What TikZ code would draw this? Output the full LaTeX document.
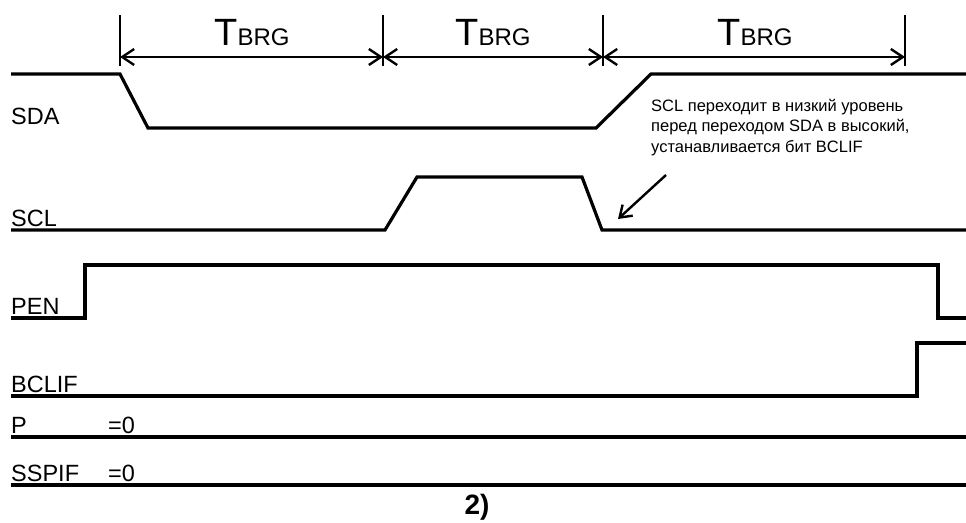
\documentclass[tikz,border=0pt]{standalone}
\usepackage{fontspec}
\setmainfont{Liberation Sans}
\usetikzlibrary{arrows.meta}
\begin{document}
\begin{tikzpicture}[x=1pt,y=-1pt,
  sig/.style={line width=3.2pt,line join=miter},
  dimline/.style={line width=2.4pt,{Straight Barb[length=12pt,width=16pt,line width=2.4pt]}-{Straight Barb[length=12pt,width=16pt,line width=2.4pt]}},
  tickline/.style={line width=2.2pt},
  lbl/.style={anchor=base west,inner sep=0pt,font=\fontsize{23.5}{23.5}\selectfont},
  note/.style={anchor=north west,inner sep=0pt,align=left,font=\fontsize{16.5}{20.5}\selectfont},
  pointer/.style={line width=2.4pt,-{Straight Barb[length=11pt,width=15pt,line width=2.4pt]}}]
\useasboundingbox (0,0) rectangle (966,522);

% dimension ticks
\coordinate (t1a) at (120,15); \coordinate (t1b) at (120,66);
\coordinate (t2a) at (383,15); \coordinate (t2b) at (383,66);
\coordinate (t3a) at (603,15); \coordinate (t3b) at (603,66);
\coordinate (t4a) at (905,15); \coordinate (t4b) at (905,66);
\draw[tickline] (t1a) -- (t1b);
\draw[tickline] (t2a) -- (t2b);
\draw[tickline] (t3a) -- (t3b);
\draw[tickline] (t4a) -- (t4b);
\coordinate (d1) at (120,57); \coordinate (d2) at (383,57);
\coordinate (d3) at (603,57); \coordinate (d4) at (905,57);
\draw[dimline] (d1) -- (d2);
\draw[dimline] (d2) -- (d3);
\draw[dimline] (d3) -- (d4);
\node[anchor=base,inner sep=0pt] (tb1) at (252,45) {\fontsize{38}{38}\selectfont T\fontsize{24}{24}\selectfont BRG};
\node[anchor=base,inner sep=0pt] (tb2) at (493,45) {\fontsize{38}{38}\selectfont T\fontsize{24}{24}\selectfont BRG};
\node[anchor=base,inner sep=0pt] (tb3) at (755,45) {\fontsize{38}{38}\selectfont T\fontsize{24}{24}\selectfont BRG};

% SDA
\node[lbl] (sda) at (11,124) {SDA};
\draw[sig] (11,74) -- (120,74) -- (148,128) -- (596,128) -- (651,74) -- (966,74);

% SCL
\node[lbl] (scl) at (11,226) {SCL};
\draw[sig] (11,230) -- (385,230) -- (417,177) -- (582,177) -- (602,230) -- (966,230);

% PEN
\node[lbl] (pen) at (11,314) {PEN};
\draw[sig] (11,318) -- (85,318) -- (85,265) -- (938,265) -- (938,318) -- (966,318);

% BCLIF
\node[lbl] (bclif) at (11,392) {BCLIF};
\draw[sig] (11,396) -- (917,396) -- (917,343) -- (966,343);

% P
\node[lbl] (p) at (11,433) {P};
\node[lbl] (p0) at (108,433) {=0};
\draw[sig] (11,437) -- (966,437);

% SSPIF
\node[lbl] (sspif) at (11,481) {SSPIF};
\node[lbl] (s0) at (108,481) {=0};
\draw[sig] (11,485) -- (966,485);

% note
\node[note] (note) at (651,99) {SCL переходит в низкий уровень\\перед переходом SDA в высокий,\\устанавливается бит BCLIF};
\coordinate (ps) at (666,175);
\coordinate (pe) at (618,219);
\draw[pointer] (ps) -- (pe);

\node[anchor=base,inner sep=0pt,font=\bfseries\fontsize{28}{28}\selectfont] (cap) at (477,514) {2)};
\end{tikzpicture}
\end{document}
